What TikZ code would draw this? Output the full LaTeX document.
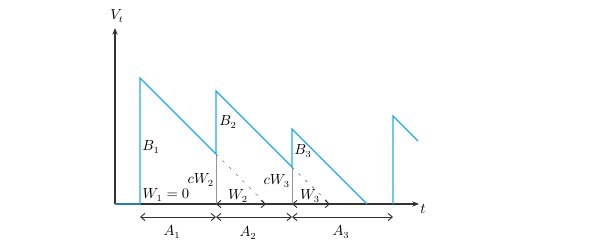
\documentclass[tikz,border=0pt]{standalone}
\usetikzlibrary{arrows.meta}
\definecolor{curve}{RGB}{30,170,235}
\definecolor{axisc}{RGB}{50,50,50}
\definecolor{guide}{RGB}{150,150,150}
\tikzset{
  barb/.tip={Straight Barb[length=3.2pt,width=5.5pt,line width=0.7pt]},
  axisline/.style={draw=axisc, line width=0.9pt},
  curveline/.style={draw=curve, line width=0.9pt},
  guideline/.style={draw=guide, line width=0.6pt},
  slopedash/.style={draw=axisc!70, line width=0.5pt, dash pattern=on 2pt off 5pt},
  warrow/.style={draw=axisc, line width=0.6pt, dash pattern=on 2pt off 1.5pt, {barb}-{barb}},
  aarrow/.style={draw=axisc, line width=0.7pt, {barb}-{barb}},
  lbl/.style={inner sep=0pt, font=\fontsize{10.5}{12}\selectfont}
}
\begin{document}
\begin{tikzpicture}[x=0.75pt,y=-0.75pt]
\useasboundingbox (0,0) rectangle (598,246);
% coordinates
\coordinate (O) at (115,204);
\coordinate (Ytop) at (115,28);
\coordinate (Xend) at (419,204);
\coordinate (s1) at (140,204);
\coordinate (p1) at (140,78);
\coordinate (e1) at (216,154);
\coordinate (p2) at (216,91);
\coordinate (e2) at (292,167);
\coordinate (p3) at (292,129);
\coordinate (e3) at (367,204);
\coordinate (s4) at (393,204);
\coordinate (p4) at (393,116);
\coordinate (e4) at (418,141);
\coordinate (b2) at (216,204);
\coordinate (b3) at (292,204);
\coordinate (z2) at (266,204);
\coordinate (z3) at (330,204);
\coordinate (a0) at (140,217);
\coordinate (a1) at (216,217);
\coordinate (a2) at (292,217);
\coordinate (a3) at (393,217);
% axes
\draw[axisline, -{Stealth[length=5pt,width=4pt]}] (O) -- (Xend);
\draw[axisline, -{Stealth[length=5pt,width=4pt]}] (O) -- (Ytop);
% guides
\draw[guideline] (e1) -- (b2);
\draw[guideline] (e2) -- (b3);
\draw[slopedash] (e1) -- (z2);
\draw[slopedash] (e2) -- (z3);
% curve
\draw[curveline] (O) -- (s1) -- (p1) -- (e1) -- (p2) -- (e2) -- (p3) -- (e3);
\draw[curveline] (s4) -- (p4) -- (e4);
% W arrows
\draw[warrow] (b2) -- (z2);
\draw[warrow] (b3) -- (z3);
% A arrows
\draw[aarrow] (a0) -- (a1);
\draw[aarrow] (a1) -- (a2);
\draw[aarrow] (a2) -- (a3);
% labels
\node[lbl] (Vt) at (117,16) {$V_t$};
\node[lbl] (tl) at (423,209) {$t$};
\node[lbl] (B1) at (151,147) {$B_1$};
\node[lbl] (B2) at (228,122) {$B_2$};
\node[lbl] (B3) at (303,151) {$B_3$};
\node[lbl, anchor=east] (cW2) at (214,180) {$cW_2$};
\node[lbl, anchor=east] (cW3) at (290,181) {$cW_3$};
\node[lbl] (W1) at (166,195) {$W_1=0$};
\node[lbl] (W2) at (238,196) {$W_2$};
\node[lbl] (W3) at (310,196) {$W_3$};
\node[lbl] (A1) at (172,232) {$A_1$};
\node[lbl] (A2) at (248,233) {$A_2$};
\node[lbl] (A3) at (341,232) {$A_3$};
\end{tikzpicture}
\end{document}
